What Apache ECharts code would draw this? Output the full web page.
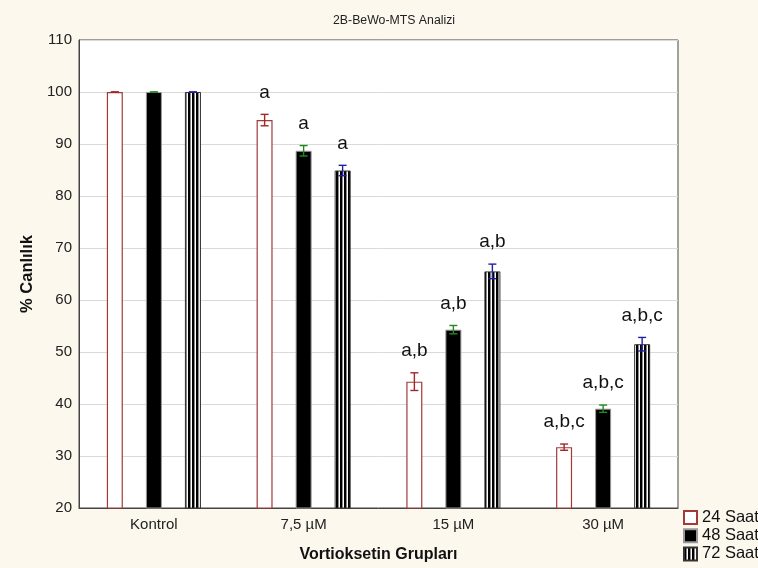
<!DOCTYPE html>
<html>
<head>
<meta charset="utf-8">
<script src="https://cdn.jsdelivr.net/npm/echarts@6/dist/echarts.min.js"></script>
<style>
html,body{margin:0;padding:0;background:#fdf8ed;}
#chart{width:758px;height:568px;}
</style>
</head>
<body>
<div id="chart"></div>
<script>
const categories = ['Kontrol', '7,5 µM', '15 µM', '30 µM'];
const seriesNames = ['24 Saat', '48 Saat', '72 Saat'];
const values24 = [100, 94.6, 44.3, 31.7];
const values48 = [100, 88.7, 54.3, 39.1];
const values72 = [100, 84.9, 65.5, 51.5];
const err24 = [0, 1.1, 1.7, 0.6];
const err48 = [0, 1.0, 0.8, 0.7];
const err72 = [0, 1.0, 1.4, 1.3];
const labels24 = ['', 'a', 'a,b', 'a,b,c'];
const labels48 = ['', 'a', 'a,b', 'a,b,c'];
const labels72 = ['', 'a', 'a,b', 'a,b,c'];
const yTicks = [20, 30, 40, 50, 60, 70, 80, 90, 100, 110];

const chart = echarts.init(document.getElementById('chart'), null, {renderer: 'canvas'});

// stripe pattern for 72 Saat
const pc = document.createElement('canvas');
pc.width = 4; pc.height = 4;
const pctx = pc.getContext('2d');
pctx.fillStyle = '#ffffff'; pctx.fillRect(0, 0, 4, 4);
pctx.fillStyle = '#000000'; pctx.fillRect(0, 0, 2, 4);
pctx.fillStyle = '#8a8a8a'; pctx.fillRect(2, 0, 1, 4);

const FONT = 'Arial, "Liberation Sans", sans-serif';
const BAR_W = 16;
const OFFSETS = [-39, 0, 39];
const errColors = ['#a02828', '#1f8a1f', '#2020a0'];

function errSeries(idx, vals, errs, labs) {
  return {
    type: 'custom',
    name: 'err' + idx,
    z: 5,
    data: vals.map((v, i) => [i, v, errs[i]]),
    encode: {x: 0, y: 1},
    renderItem: function (params, api) {
      const ci = api.value(0), v = api.value(1), e = api.value(2);
      const lab = labs[ci];
      const top = api.coord([ci, v + e]);
      const bot = api.coord([ci, v - e]);
      const x = top[0] + OFFSETS[idx];
      const cap = 4;
      const st = {stroke: errColors[idx], lineWidth: 1.4};
      const children = [
        {type: 'line', shape: {x1: x, y1: top[1], x2: x, y2: bot[1]}, style: st},
        {type: 'line', shape: {x1: x - cap, y1: top[1], x2: x + cap, y2: top[1]}, style: st},
        {type: 'line', shape: {x1: x - cap, y1: bot[1], x2: x + cap, y2: bot[1]}, style: st}
      ];
      if (lab) {
        children.push({type: 'text', x: x, y: top[1] - 22,
          style: {text: lab, fill: '#111', font: '19px ' + FONT,
            align: 'center', verticalAlign: 'middle'}});
      }
      return {type: 'group', children: children};
    }
  };
}

const option = {
  backgroundColor: '#fdf8ed',
  animation: false,
  title: {
    text: '2B-BeWo-MTS Analizi',
    left: 328, top: 10,
    textStyle: {fontSize: 12.3, fontWeight: 'normal', color: '#222', fontFamily: FONT}
  },
  grid: {left: 79, right: 80, top: 40, bottom: 60, show: true, backgroundColor: '#ffffff', borderColor: '#444', borderWidth: 1},
  legend: {
    data: [{name: '24 Saat'}, {name: '48 Saat'}, {name: '72 Saat'}],
    orient: 'vertical',
    left: 683, top: 509,
    itemWidth: 13, itemHeight: 13, itemGap: 1.2,
    icon: 'rect',
    textStyle: {fontSize: 16.5, color: '#111', fontFamily: FONT, padding: [0, 0, 0, 0]},
    padding: 0
  },
  xAxis: {
    type: 'category',
    data: categories,
    name: 'Vortioksetin Grupları',
    nameLocation: 'middle',
    nameGap: 39,
    nameTextStyle: {fontSize: 16, fontWeight: 'bold', color: '#111', fontFamily: FONT},
    axisLine: {lineStyle: {color: '#444'}},
    axisTick: {show: false},
    axisLabel: {fontSize: 15, color: '#222', margin: 9, fontFamily: FONT},
    splitLine: {show: false}
  },
  yAxis: {
    type: 'value',
    min: yTicks[0], max: yTicks[yTicks.length - 1], interval: 10,
    name: '% Canlılık',
    nameLocation: 'middle',
    nameGap: 43,
    nameRotate: 90,
    nameTextStyle: {fontSize: 16.5, fontWeight: 'bold', color: '#111', fontFamily: FONT},
    axisLine: {show: true, lineStyle: {color: '#444'}},
    axisTick: {show: false},
    axisLabel: {fontSize: 15, color: '#222', margin: 7, fontFamily: FONT},
    splitLine: {lineStyle: {color: '#dadada'}}
  },
  series: [
    {type: 'bar', name: seriesNames[0], data: values24, barWidth: BAR_W, barGap: '144%',
      itemStyle: {color: '#ffffff', borderColor: '#a33a3a', borderWidth: 1.2}},
    {type: 'bar', name: seriesNames[1], data: values48, barWidth: BAR_W, barGap: '144%',
      itemStyle: {color: '#000000', borderColor: '#999', borderWidth: 1}},
    {type: 'bar', name: seriesNames[2], data: values72, barWidth: BAR_W, barGap: '144%',
      itemStyle: {color: {image: pc, repeat: 'repeat'}, borderColor: '#333', borderWidth: 1}},
    errSeries(0, values24, err24, labels24),
    errSeries(1, values48, err48, labels48),
    errSeries(2, values72, err72, labels72)
  ]
};
chart.setOption(option);
</script>
</body>
</html>
